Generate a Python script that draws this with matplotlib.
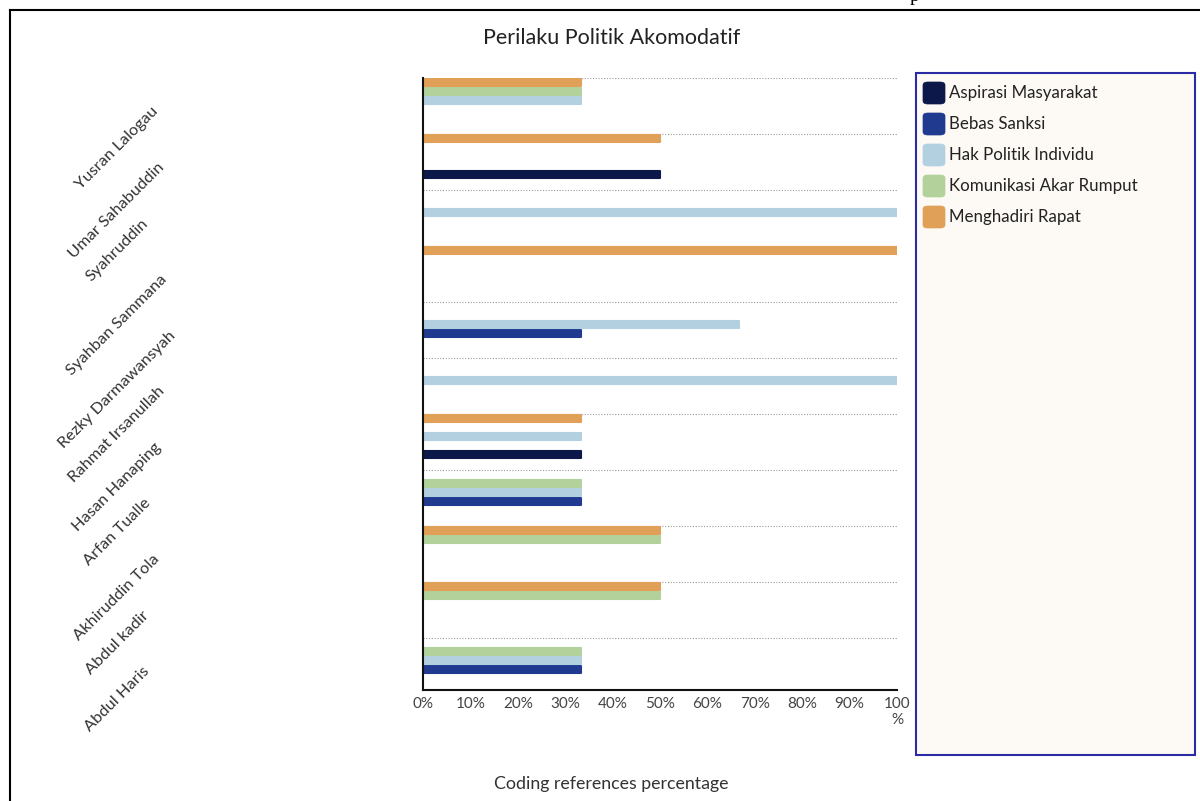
import matplotlib
matplotlib.use('Agg')
import matplotlib.pyplot as plt
from matplotlib.patches import FancyBboxPatch, Rectangle
from matplotlib.lines import Line2D
from matplotlib.transforms import blended_transform_factory

plt.rcParams['font.family'] = ['Lato', 'DejaVu Sans']

# ── data ──────────────────────────────────────────────────────────────────────
names = ['Yusran Lalogau', 'Umar Sahabuddin', 'Syahruddin', 'Syahban Sammana',
         'Rezky Darmawansyah', 'Rahmat Irsanullah', 'Hasan Hanaping', 'Arfan Tualle',
         'Akhiruddin Tola', 'Abdul kadir', 'Abdul Haris']

series = ['Aspirasi Masyarakat', 'Bebas Sanksi', 'Hak Politik Individu',
          'Komunikasi Akar Rumput', 'Menghadiri Rapat']
colors = ['#0c1849', '#1f3a8f', '#b3d0e0', '#b2d19b', '#e1a057']

aspirasi   = [0, 50, 0, 0, 0, 0, 33.33, 0, 0, 0, 0]
bebas      = [0, 0, 0, 0, 33.33, 0, 0, 33.33, 0, 0, 33.33]
hak        = [33.33, 0, 100, 0, 66.67, 100, 33.33, 33.33, 0, 0, 33.33]
komunikasi = [33.33, 0, 0, 0, 0, 0, 0, 33.33, 50, 50, 33.33]
menghadiri = [33.33, 50, 0, 100, 0, 0, 33.33, 0, 50, 50, 0]
values = [aspirasi, bebas, hak, komunikasi, menghadiri]

xticks = list(range(0, 101, 10))
xticklabels = [f'{t}%' for t in xticks[:-1]] + ['100\n%']

# ── figure ────────────────────────────────────────────────────────────────────
W, H = 1200, 801
fig = plt.figure(figsize=(W / 100, H / 100), dpi=100)
ax = fig.add_axes([423 / W, 1 - 690 / H, 474 / W, 612 / H])

GROUP = 56.0                       # px per group
slot_h = 9 / GROUP
first = 4.8 / GROUP
n = len(series)

# dotted separators between people
for g in range(len(names)):
    ax.plot([0, 100], [g, g], color='#9a9a9a', lw=0.8, ls=(0, (1, 1.5)), zorder=1)

# bars: inside a group the series run bottom-up in legend order
for k, (vals, col) in enumerate(zip(values, colors)):
    slot = n - 1 - k
    ys = [g + first + slot * slot_h for g in range(len(names))]
    nz = [(y, v) for y, v in zip(ys, vals) if v > 0]
    ax.barh([y for y, _ in nz], [v for _, v in nz], height=slot_h * 0.8, color=col,
            edgecolor=col, linewidth=1.5, joinstyle='round', zorder=3)

ax.set_xlim(0, 100)
ax.set_ylim(612 / GROUP, 0)
ax.set_xticks(xticks)
ax.set_xticklabels(xticklabels, fontsize=11, color='#444444')
ax.tick_params(axis='x', length=0, pad=5)
ax.set_yticks([])
for s in ['top', 'right']:
    ax.spines[s].set_visible(False)
for s in ['left', 'bottom']:
    ax.spines[s].set_color('#111111')
    ax.spines[s].set_linewidth(1.5)
    ax.spines[s].set_zorder(5)

# rotated person labels, centred on a fixed column left of the axis
trans = blended_transform_factory(fig.transFigure, ax.transData)
for g, name in enumerate(names):
    ax.text(117 / W, g + 0.47, name, transform=trans, rotation=45,
            ha='center', va='top', fontsize=11.8, color='#333333', clip_on=False)

fig.text(612 / W, 1 - 38 / H, 'Perilaku Politik Akomodatif', ha='center', va='center',
         fontsize=15.5, color='#222222')
fig.text(611 / W, 1 - 784 / H, 'Coding references percentage', ha='center', va='center',
         fontsize=12.8, color='#333333')

# legend panel
fig.patches.append(Rectangle((916 / W, 1 - 755 / H), 279 / W, 682 / H,
                             transform=fig.transFigure, facecolor='#fdf9f4',
                             edgecolor='#2b2ba5', linewidth=1.5, zorder=0))
for i, (label, col) in enumerate(zip(series, colors)):
    yc = 93 + i * 31
    fig.patches.append(FancyBboxPatch((923 / W, 1 - (yc + 11) / H), 22 / W, 22 / H,
                                      boxstyle='round,pad=0,rounding_size=0.004',
                                      transform=fig.transFigure, facecolor=col,
                                      edgecolor=col, linewidth=0.5, zorder=2))
    fig.text(949 / W, 1 - yc / H, label, ha='left', va='center', fontsize=12.2,
             color='#222222')

# page frame
fig.lines.append(Line2D([10 / W, 1], [1 - 10 / H, 1 - 10 / H], transform=fig.transFigure,
                        color='black', lw=1.5))
fig.lines.append(Line2D([10 / W, 10 / W], [0, 1 - 10 / H], transform=fig.transFigure,
                        color='black', lw=1.5))
fig.text(910 / W, 1 - 1 / H, 'p', ha='left', va='baseline', fontsize=14,
         family='Liberation Serif', color='black')

fig.savefig('out.png', dpi=100, facecolor='white')
